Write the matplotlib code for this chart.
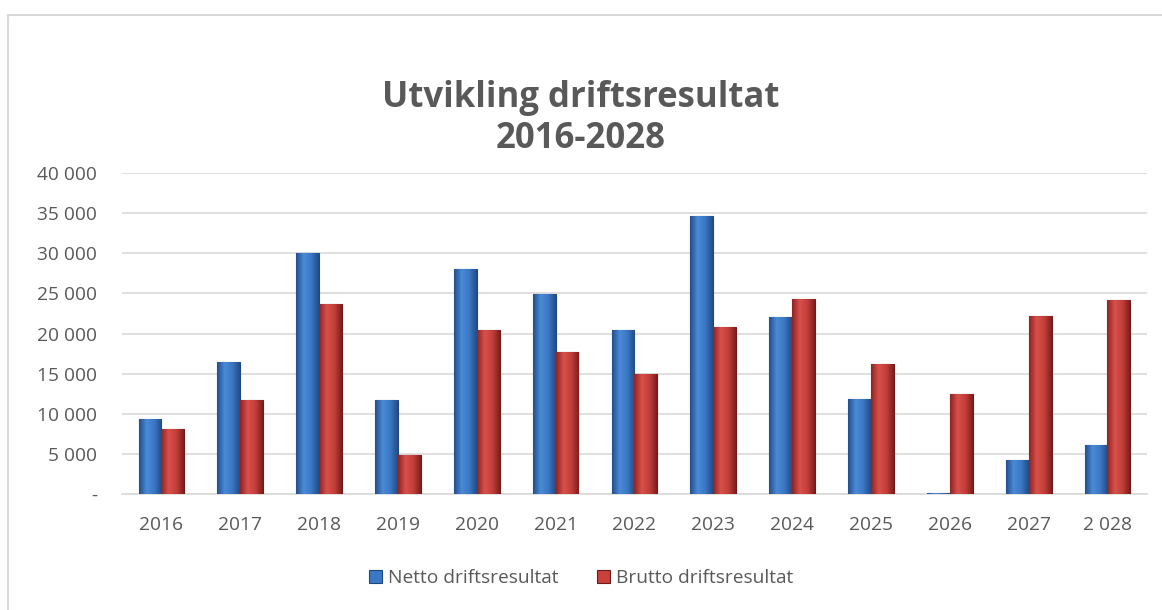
import matplotlib.pyplot as plt
import numpy as np
from matplotlib.patches import Rectangle
from matplotlib.colors import LinearSegmentedColormap
from matplotlib.ticker import FuncFormatter

years = ["2016", "2017", "2018", "2019", "2020", "2021", "2022",
         "2023", "2024", "2025", "2026", "2027", "2 028"]
netto = [9400, 16500, 30000, 11700, 28100, 24900, 20500,
         34700, 22100, 11900, 100, 4200, 6100]
brutto = [8100, 11750, 23700, 4900, 20500, 17700, 15000,
          20800, 24300, 16200, 12500, 22250, 24200]

text_col = "#595959"
plt.rcParams["font.family"] = ["Open Sans", "DejaVu Sans"]

fig = plt.figure(figsize=(11.62, 6.10), dpi=100)
# chart border (only top/left visible in the original)
fig.patches.append(Rectangle((8 / 1162, -0.05), 1.1, 1 - 15 / 610 + 0.05,
                             transform=fig.transFigure, fill=False,
                             edgecolor="#d9d9d9", linewidth=1.5))

ax = fig.add_axes([0.105, 0.19, 0.882, 0.5262])
x = np.arange(len(years))
w = 0.29

blue_cm = LinearSegmentedColormap.from_list("b", ["#244f8c", "#4a8ad6", "#3b78c4", "#234c86"])
red_cm = LinearSegmentedColormap.from_list("r", ["#8e2422", "#d8504b", "#c43f3a", "#7e1e1c"])
grad = np.linspace(0, 1, 64).reshape(1, -1)

for vals, off, cm, edge, lab, face in [
        (netto, -w / 2, blue_cm, "#1f4780", "Netto driftsresultat", "#3a77c4"),
        (brutto, w / 2, red_cm, "#6e1a18", "Brutto driftsresultat", "#c9403b")]:
    bars = ax.bar(x + off, vals, w, color=face, edgecolor=edge, linewidth=0.8,
                  label=lab, zorder=3)
    for b in bars:
        x0, h, bw = b.get_x(), b.get_height(), b.get_width()
        im = ax.imshow(grad, cmap=cm, aspect="auto", extent=[x0, x0 + bw, 0, h],
                       zorder=3.5, interpolation="bilinear")
        im.set_clip_path(b)

ax.set_xlim(-0.5, len(years) - 0.5)
ax.set_ylim(0, 40000)
ax.set_yticks(range(0, 40001, 5000))
ax.yaxis.set_major_formatter(FuncFormatter(
    lambda v, p: "-" if v == 0 else f"{int(v):,}".replace(",", " ")))
ax.set_xticks(x)
ax.set_xticklabels(years)
ax.tick_params(axis="both", length=0, labelsize=13.8, colors=text_col)
ax.tick_params(axis="x", pad=16)
ax.tick_params(axis="y", pad=18)
ax.grid(axis="y", color="#d9d9d9", linewidth=1.2, zorder=0)
for s in ["top", "right", "left"]:
    ax.spines[s].set_visible(False)
ax.spines["bottom"].set_color("#d9d9d9")
ax.spines["bottom"].set_linewidth(1.2)

fig.text(0.5, 0.806, "Utvikling driftsresultat\n2016-2028", ha="center", va="center",
         fontsize=25, fontweight="bold", color=text_col, linespacing=1.2)

handles, labels = ax.get_legend_handles_labels()
fig.legend(handles, labels, loc="center", bbox_to_anchor=(0.5, 1 - 578 / 610), ncol=2,
           frameon=False, fontsize=13.8, labelcolor=text_col, handlelength=0.7,
           handleheight=0.7, handletextpad=0.3, columnspacing=2.0)

fig.savefig("out.png", dpi=100)
